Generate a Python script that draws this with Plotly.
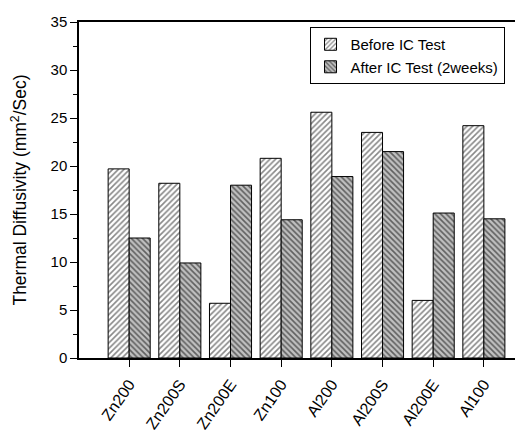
import plotly.graph_objects as go

categories = ["Zn200", "Zn200S", "Zn200E", "Zn100", "Al200", "Al200S", "Al200E", "Al100"]
before_ic = [19.7, 18.2, 5.7, 20.8, 25.6, 23.5, 6.0, 24.2]
after_ic = [12.5, 9.9, 18.0, 14.4, 18.9, 21.5, 15.1, 14.5]
series_names = ["Before IC Test", "After IC Test (2weeks)"]
y_title = "Thermal Diffusivity (mm<sup>2</sup>/Sec)"

FONT = "Liberation Sans"

fig = go.Figure()
fig.add_trace(go.Bar(
    x=categories, y=before_ic, name=series_names[0],
    marker=dict(color="white", line=dict(color="black", width=1),
                pattern=dict(shape="/", fgcolor="#111111", bgcolor="white",
                             size=4, solidity=0.4)),
))
fig.add_trace(go.Bar(
    x=categories, y=after_ic, name=series_names[1],
    marker=dict(color="#c0c0c0", line=dict(color="black", width=1),
                pattern=dict(shape="\\", fgcolor="#000000", bgcolor="#c0c0c0",
                             size=4, solidity=0.4)),
))

fig.update_layout(
    width=523, height=432,
    margin=dict(l=71, r=0, t=14, b=82),
    paper_bgcolor="white", plot_bgcolor="white",
    barmode="group", bargap=0.17, bargroupgap=0,
    font=dict(family=FONT, size=15, color="black"),
    showlegend=True,
    legend=dict(x=0.51, y=0.985, xanchor="left", yanchor="top",
                bordercolor="black", borderwidth=1, bgcolor="white",
                font=dict(size=15, family=FONT), itemwidth=30, tracegroupgap=0),
)
fig.update_xaxes(
    range=[-0.99, 7.93], showline=True, linecolor="black", linewidth=1.5,
    mirror=True, ticks="outside", ticklen=7, tickcolor="black", tickwidth=1,
    tickangle=-55, tickfont=dict(size=16, family=FONT),
    ticklabelstandoff=2,
    showgrid=False, zeroline=False,
)
fig.update_yaxes(
    range=[0, 35], dtick=5, showline=True, linecolor="black", linewidth=1.5,
    mirror=False, ticks="outside", ticklen=7, tickcolor="black", tickwidth=1,
    tickfont=dict(size=15, family=FONT),
    minor=dict(dtick=2.5, ticks="outside", ticklen=4, tickcolor="black", showgrid=False),
    showgrid=False, zeroline=False, automargin=False,
    title=dict(text=y_title, font=dict(size=17.5, family=FONT), standoff=22),
)

fig.write_html("out.html")
